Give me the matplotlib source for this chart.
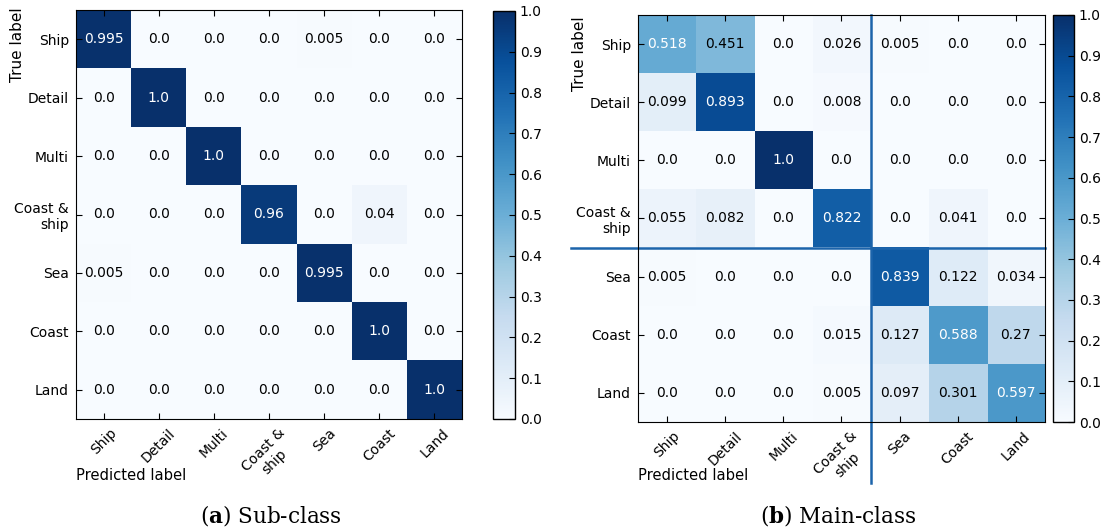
import numpy as np
import matplotlib
matplotlib.use('Agg')
import matplotlib.pyplot as plt

# class names for both matrices
classes = ['Ship', 'Detail', 'Multi', 'Coast &\nship', 'Sea', 'Coast', 'Land']

# (a) sub-class confusion matrix (normalised rows)
sub_rows = [
    [0.995, 0.0, 0.0, 0.0, 0.005, 0.0, 0.0],
    [0.0, 1.0, 0.0, 0.0, 0.0, 0.0, 0.0],
    [0.0, 0.0, 1.0, 0.0, 0.0, 0.0, 0.0],
    [0.0, 0.0, 0.0, 0.96, 0.0, 0.04, 0.0],
    [0.005, 0.0, 0.0, 0.0, 0.995, 0.0, 0.0],
    [0.0, 0.0, 0.0, 0.0, 0.0, 1.0, 0.0],
    [0.0, 0.0, 0.0, 0.0, 0.0, 0.0, 1.0],
]

# (b) main-class confusion matrix
main_rows = [
    [0.518, 0.451, 0.0, 0.026, 0.005, 0.0, 0.0],
    [0.099, 0.893, 0.0, 0.008, 0.0, 0.0, 0.0],
    [0.0, 0.0, 1.0, 0.0, 0.0, 0.0, 0.0],
    [0.055, 0.082, 0.0, 0.822, 0.0, 0.041, 0.0],
    [0.005, 0.0, 0.0, 0.0, 0.839, 0.122, 0.034],
    [0.0, 0.0, 0.0, 0.015, 0.127, 0.588, 0.27],
    [0.0, 0.0, 0.0, 0.005, 0.097, 0.301, 0.597],
]

cbar_ticks = [0.0, 0.1, 0.2, 0.3, 0.4, 0.5, 0.6, 0.7, 0.8, 0.9, 1.0]

W, H = 1105, 529
fs = 10
fig = plt.figure(figsize=(W / 100, H / 100), dpi=100)
fig.patch.set_facecolor('white')


def px(x0, y0, x1, y1):
    # pixel box -> figure fraction rect
    return [x0 / W, 1 - y1 / H, (x1 - x0) / W, (y1 - y0) / H]


def draw_cm(ax, cax, data):
    cm = np.array(data)
    im = ax.imshow(cm, interpolation='nearest', cmap='Blues', vmin=0, vmax=1,
                   aspect='auto')
    n = len(classes)
    ax.set_xticks(range(n))
    ax.set_xticklabels(classes, rotation=45, fontsize=fs)
    ax.set_yticks(range(n))
    ax.set_yticklabels(classes, fontsize=fs)
    ax.tick_params(direction='in', length=4, top=True, right=True,
                   labeltop=False, labelright=False, pad=5)
    for i in range(n):
        for j in range(n):
            ax.text(j, i, str(cm[i, j]), ha='center', va='center', fontsize=fs,
                    color='white' if cm[i, j] > 0.5 else 'black')
    cb = fig.colorbar(im, cax=cax, ticks=cbar_ticks)
    cb.ax.tick_params(direction='in', length=4, labelsize=fs)
    cb.ax.set_yticklabels(['%.1f' % t for t in cbar_ticks])
    cb.outline.set_linewidth(1)


# left panel
ax1 = fig.add_axes(px(76, 10, 462, 419))
cax1 = fig.add_axes(px(493, 11, 515, 419))
draw_cm(ax1, cax1, sub_rows)

# right panel
ax2 = fig.add_axes(px(638, 15, 1045, 422))
cax2 = fig.add_axes(px(1053, 15, 1074, 422))
draw_cm(ax2, cax2, main_rows)

# divider lines between the main groups
line_col = '#1c64ab'
ax2.plot([3.5, 3.5], [-0.5, 7.55], color=line_col, lw=1.8, clip_on=False)
ax2.plot([-1.65, 6.5], [3.5, 3.5], color=line_col, lw=1.8, clip_on=False)
ax2.set_xlim(-0.5, 6.5)
ax2.set_ylim(6.5, -0.5)

# axis labels
for x in [76, 638]:
    fig.text(x / W, 1 - 476 / H, 'Predicted label', fontsize=10.6,
             ha='left', va='center')
fig.text(18 / W, 1 - 7 / H, 'True label', fontsize=11, rotation=90,
         ha='center', va='top')
fig.text(580 / W, 1 - 16 / H, 'True label', fontsize=11, rotation=90,
         ha='center', va='top')

# captions
cap_font = 'DejaVu Serif'
fig.text(271 / W, 1 - 515 / H, r'($\mathbf{a}$) Sub-class', fontsize=15.5,
         family=cap_font, ha='center', va='center',
         math_fontfamily='dejavuserif')
fig.text(838 / W, 1 - 515 / H, r'($\mathbf{b}$) Main-class', fontsize=15.5,
         family=cap_font, ha='center', va='center',
         math_fontfamily='dejavuserif')

fig.savefig('out.png', dpi=100)
